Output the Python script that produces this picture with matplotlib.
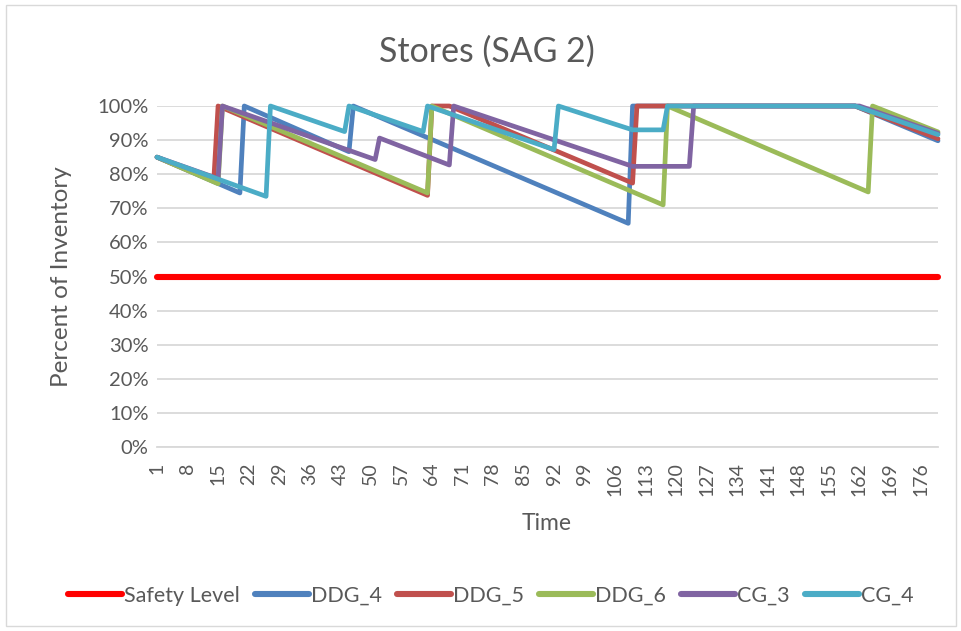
import matplotlib
matplotlib.use("Agg")
import matplotlib.pyplot as plt
from matplotlib.patches import Rectangle
from matplotlib.ticker import FuncFormatter

plt.rcParams['font.family'] = ['Lato', 'DejaVu Sans']

# ---- data (breakpoints) ----
n_periods = 180
tick_labels = list(range(1, 181, 7))
safety_level = 50

ddg4_t = [1, 20, 21, 45, 46, 109, 110, 161, 180]
ddg4_v = [85, 74.5, 100, 86.6, 100, 65.6, 100, 100, 89.8]

ddg5_t = [1, 14, 15, 63, 64, 68, 110, 111, 161, 180]
ddg5_v = [85, 78.0, 100, 73.8, 100, 100, 77.4, 100, 100, 90.4]

ddg6_t = [1, 15, 16, 63, 64, 117, 118, 164, 165, 180]
ddg6_v = [85, 77.2, 100, 74.5, 100, 71.0, 100, 74.8, 100, 92.4]

cg3_t = [1, 15, 16, 51, 52, 68, 69, 110, 123, 124, 162, 180]
cg3_v = [85, 78.7, 100, 84.3, 90.6, 82.7, 100, 82.3, 82.3, 100, 100, 92.0]

cg4_t = [1, 26, 27, 44, 45, 62, 63, 92, 93, 110, 117, 118, 161, 180]
cg4_v = [85, 73.5, 100, 92.5, 100, 92.5, 100, 87.2, 100, 93.0, 93.0, 100, 100, 91.6]

series = [
    ("DDG_4", ddg4_t, ddg4_v, "#4F81BD"),
    ("DDG_5", ddg5_t, ddg5_v, "#C0504D"),
    ("DDG_6", ddg6_t, ddg6_v, "#9BBB59"),
    ("CG_3", cg3_t, cg3_v, "#8064A2"),
    ("CG_4", cg4_t, cg4_v, "#4BACC6"),
]

txt = "#595959"
grid = "#D9D9D9"

fig = plt.figure(figsize=(9.62, 6.31), dpi=100)
fig.patches.append(Rectangle((0.006, 0.008), 0.988, 0.984, transform=fig.transFigure,
                             fill=False, edgecolor=grid, linewidth=1.0))
ax = fig.add_axes([157/962, 1-447/631, (938-157)/962, (447-106)/631])

ax.plot([1, n_periods], [safety_level, safety_level], color="#FF0000", lw=4.4,
        solid_capstyle="round", label="Safety Level", clip_on=False, zorder=3)
for name, t, v, c in series:
    ax.plot(t, v, color=c, lw=3.4, solid_joinstyle="round", solid_capstyle="round",
            label=name, clip_on=False, zorder=3)

ax.set_xlim(1, n_periods)
ax.set_ylim(0, 100)
ax.set_yticks(range(0, 101, 10))
ax.yaxis.set_major_formatter(FuncFormatter(lambda v, p: f"{int(v)}%"))
ax.set_xticks(tick_labels)
ax.set_xticklabels([str(t) for t in tick_labels], rotation=90)
ax.tick_params(axis="both", length=0, colors=txt)
ax.tick_params(axis="x", pad=11, labelsize=14)
ax.tick_params(axis="y", pad=6, labelsize=14.5)
ax.grid(axis="y", color=grid, lw=1.3)
ax.set_axisbelow(True)
for s in ["top", "right", "left"]:
    ax.spines[s].set_visible(False)
ax.spines["bottom"].set_color(grid)
ax.spines["bottom"].set_linewidth(1.3)

fig.text(487/962, 1-52/631, "Stores (SAG 2)", fontsize=24.4, color=txt,
         ha="center", va="center")
fig.text(547/962, 1-523/631, "Time", fontsize=16.5, color=txt, ha="center", va="center")
fig.text(62/962, 1-277/631, "Percent of Inventory", fontsize=17.5, color=txt,
         ha="center", va="center", rotation=90)

leg = fig.legend(loc="center", bbox_to_anchor=(491/962, 1-596/631), ncol=6, frameon=False,
                 fontsize=15.5, handlelength=2.5, handletextpad=0.1, columnspacing=0.7,
                 labelcolor=txt)
for h in leg.get_lines():
    h.set_linewidth(4.4)
    h.set_solid_capstyle("round")

fig.savefig("out.png", dpi=100)
